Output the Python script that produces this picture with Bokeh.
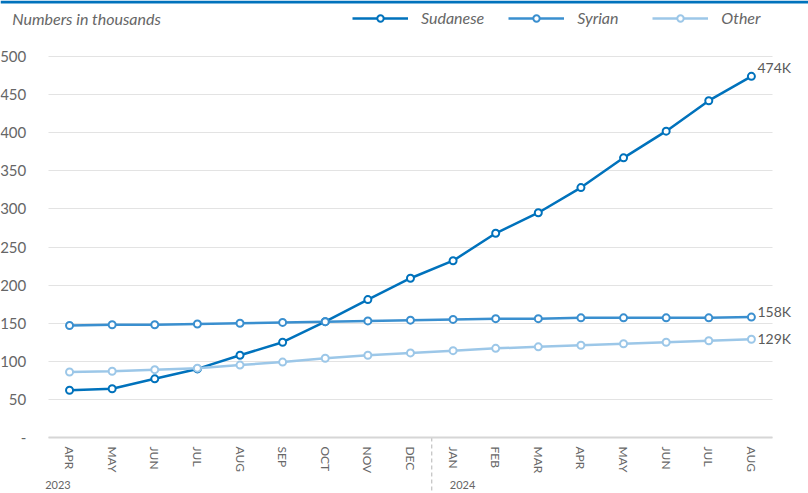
from bokeh.plotting import figure
from bokeh.models import FixedTicker, Label, Legend, LegendItem, Span
from bokeh.embed import file_html
from bokeh.resources import INLINE

months = ["APR", "MAY", "JUN", "JUL", "AUG", "SEP", "OCT", "NOV", "DEC",
          "JAN", "FEB", "MAR", "APR", "MAY", "JUN", "JUL", "AUG"]
years = ["2023", "2024"]
year_start_idx = [0, 9]
sudanese = [62, 64, 77, 90, 108, 125, 152, 181, 209, 232, 268, 295, 328, 367, 402, 442, 474]
syrian = [147, 148, 148, 149, 150, 151, 152, 153, 154, 155, 156, 156, 157, 157, 157, 157, 158]
other = [86, 87, 89, 91, 95, 99, 104, 108, 111, 114, 117, 119, 121, 123, 125, 127, 129]
y_ticks = [0, 50, 100, 150, 200, 250, 300, 350, 400, 450, 500]

series = [("Sudanese", sudanese, "#0072BC", 9),
          ("Syrian", syrian, "#3A8FCF", 6),
          ("Other", other, "#9CC7E8", 1)]

FONT = "Lato"
GRAY = "#666666"

x = list(range(len(months)))
n = len(months)

W, H = 808, 493
p = figure(width=W, height=H, output_backend="svg", toolbar_location=None,
           x_range=(-1.62, 17.34), y_range=(-73.5, 573.5), min_border=0)
p.outline_line_color = None
p.border_fill_color = "white"
p.xgrid.grid_line_color = None

use_seg_grid = False
p.ygrid.ticker = FixedTicker(ticks=y_ticks)
p.ygrid.grid_line_color = "#e3e3e3"
p.ygrid.grid_line_width = 1
try:
    p.ygrid.cross_bounds = (-0.5, n - 0.5)
except Exception:
    use_seg_grid = True
    p.ygrid.grid_line_color = None

if use_seg_grid:
    gy = [t for t in y_ticks if t != 0]
    p.segment(x0=[-0.5] * len(gy), x1=[n - 0.5] * len(gy), y0=gy, y1=gy,
              line_color="#e3e3e3", line_width=1)

# y axis drawn inside the frame at the left end of the grid
p.yaxis.fixed_location = -0.5
p.yaxis.ticker = FixedTicker(ticks=y_ticks)
p.yaxis.major_label_overrides = {0: "-"}
p.yaxis.axis_line_color = None
p.yaxis.major_tick_line_color = None
p.yaxis.minor_tick_line_color = None
p.yaxis.major_label_text_font = FONT
p.yaxis.major_label_text_font_size = "15px"
p.yaxis.major_label_text_color = GRAY
p.yaxis.major_label_standoff = 16

# x axis fixed at y=0
p.xaxis.fixed_location = 0
p.xaxis.bounds = (-0.5, n - 0.5)
p.xaxis.ticker = FixedTicker(ticks=x)
p.xaxis.major_label_overrides = {i: m for i, m in enumerate(months)}
p.xaxis.major_label_orientation = "vertical"
p.xaxis.axis_line_color = "#d6d6d6"
p.xaxis.axis_line_width = 2
p.xaxis.major_tick_line_color = None
p.xaxis.minor_tick_line_color = None
p.xaxis.major_label_text_font = FONT
p.xaxis.major_label_text_font_size = "12px"
p.xaxis.major_label_text_color = GRAY
p.xaxis.major_label_standoff = 3

# top band
p.add_layout(Span(location=571.5, dimension="width", line_color="#0072BC", line_width=3))

# year separator
sep = year_start_idx[1] - 0.5
p.segment(x0=[sep], x1=[sep], y0=[0], y1=[-90], line_color="#b5b5b5",
          line_width=1, line_dash="4 3")

items = []
for name, vals, color, yoff in series:
    r1 = p.line(x, vals, line_color=color, line_width=2.5)
    r2 = p.scatter(x, vals, size=7, fill_color="white", line_color=color, line_width=2)
    items.append(LegendItem(label=name, renderers=[r1, r2]))
    p.add_layout(Label(x=x[-1], y=vals[-1], text=f"{vals[-1]}K", x_offset=6, y_offset=yoff,
                       text_baseline="middle", text_font=FONT, text_font_size="14px",
                       text_color="#5a5a5a"))

legend = Legend(items=items, orientation="horizontal", location=(352, 466),
                glyph_width=56, glyph_height=16, label_standoff=13, spacing=24,
                label_width=51, label_height=16, padding=0, margin=0,
                border_line_color=None, background_fill_alpha=0,
                label_text_font=FONT, label_text_font_style="italic",
                label_text_font_size="16px", label_text_color=GRAY)
p.add_layout(legend, "center")

# title
p.add_layout(Label(x=-0.5, y=500, x_offset=-36, y_offset=38, text="Numbers in thousands",
                   text_baseline="middle", text_font=FONT, text_font_style="italic",
                   text_font_size="16px", text_color=GRAY))

# year labels
for yr, idx, off in zip(years, year_start_idx, [-3, 18]):
    xpos = idx - 0.5
    p.add_layout(Label(x=xpos, y=-57, x_offset=off, text=yr, text_baseline="top",
                       text_font=FONT, text_font_size="11px", text_color=GRAY))

open("out.html", "w").write(file_html(p, INLINE))
